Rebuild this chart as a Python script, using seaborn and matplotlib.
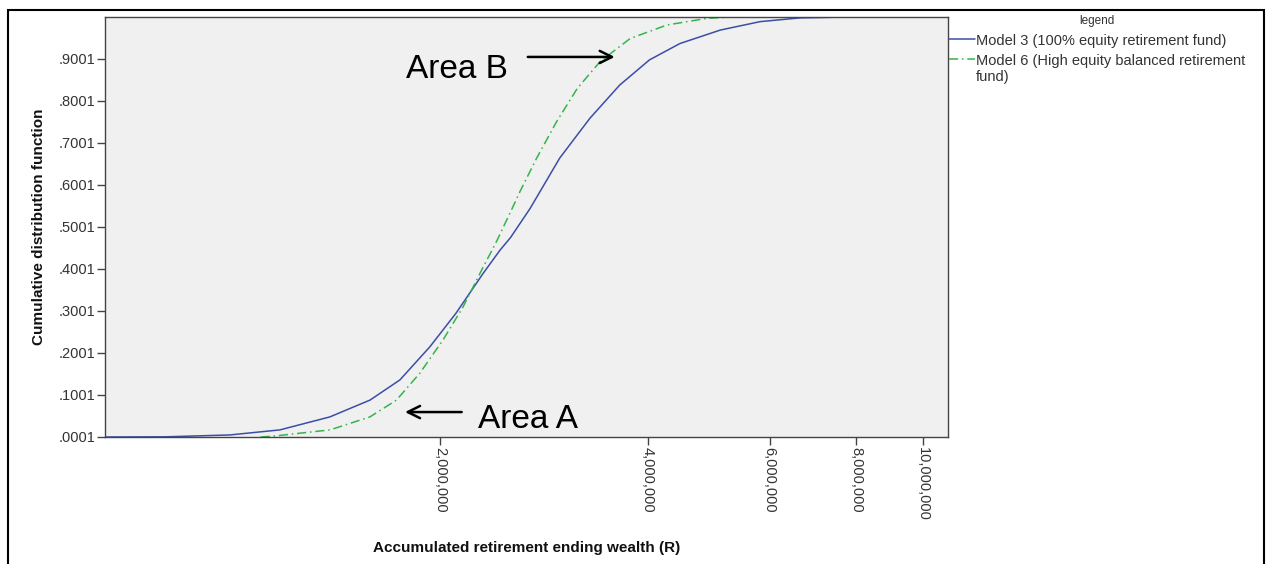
import numpy as np
import pandas as pd
import matplotlib
matplotlib.use("Agg")
import matplotlib.pyplot as plt
from matplotlib.patches import Rectangle
from matplotlib.ticker import FixedLocator, FuncFormatter, NullLocator
import seaborn as sns

# Empirical CDF of accumulated retirement ending wealth (R), per model
model3_wealth = [655000, 800000, 993000, 1173000, 1386000, 1584000, 1750000,
                 1934000, 2110000, 2310000, 2443000, 2530000, 2700000, 2980000,
                 3296000, 3640000, 4020000, 4450000, 5090000, 5810000, 6640000,
                 7800000, 10870000]
model3_cdf = [0.0001, 0.0005, 0.005, 0.017, 0.048, 0.088, 0.136,
              0.215, 0.295, 0.390, 0.445, 0.475, 0.544, 0.664,
              0.759, 0.838, 0.898, 0.937, 0.969, 0.989, 0.998,
              1.0001, 1.0001]

model6_wealth = [1100000, 1146000, 1386000, 1584000, 1730000, 1870000, 2020000,
                 2160000, 2310000, 2386000, 2420000, 2550000, 2610000, 2760000,
                 2950000, 3160000, 3410000, 3770000, 4260000, 4870000, 5300000,
                 10870000]
model6_cdf = [0.0001, 0.002, 0.017, 0.048, 0.088, 0.152, 0.231,
              0.310, 0.405, 0.449, 0.469, 0.548, 0.584, 0.664,
              0.751, 0.830, 0.894, 0.949, 0.981, 0.997, 1.0001,
              1.0001]

model_names = ["Model 3 (100% equity retirement fund)",
               "Model 6 (High equity balanced retirement fund)"]
legend_labels = ["Model 3 (100% equity retirement fund)",
                 "Model 6 (High equity balanced retirement\nfund)"]

x_ticks = [2000000, 4000000, 6000000, 8000000, 10000000]
y_ticks = [0.0001 + 0.1 * k for k in range(10)]

df = pd.concat([
    pd.DataFrame({"wealth": model3_wealth, "cdf": model3_cdf, "model": model_names[0]}),
    pd.DataFrame({"wealth": model6_wealth, "cdf": model6_cdf, "model": model_names[1]}),
], ignore_index=True)

sns.set_style("ticks")
plt.rcParams["font.family"] = ["Liberation Sans", "DejaVu Sans"]

fig = plt.figure(figsize=(12.66, 5.64), dpi=100)
W, H = 1266, 564
ax = fig.add_axes([105 / W, 1 - 437 / H, (948 - 105) / W, (437 - 17) / H])
ax.set_facecolor("#f0f0f0")

palette = {model_names[0]: "#3B4EA6", model_names[1]: "#34B44A"}
dashes = {model_names[0]: "", model_names[1]: (6, 2.5, 1, 2.5)}
sns.lineplot(data=df, x="wealth", y="cdf", hue="model", style="model",
             palette=palette, dashes=dashes, linewidth=1.1, sort=False,
             estimator=None, ax=ax)

ax.set_xscale("log")
ax.set_xlim(655000, 10870000)
ax.set_ylim(0.0001, 1.0001)

ax.xaxis.set_major_locator(FixedLocator(x_ticks))
ax.xaxis.set_minor_locator(NullLocator())
ax.xaxis.set_major_formatter(FuncFormatter(lambda v, p: f"{int(round(v)):,}"))
ax.yaxis.set_major_locator(FixedLocator(y_ticks))
ax.yaxis.set_major_formatter(
    FuncFormatter(lambda v, p: "." + f"{int(round(v * 10000)):04d}"))

ax.tick_params(axis="both", direction="out", length=6, width=1,
               color="#444444", labelcolor="#333333", labelsize=10.5)
ax.tick_params(axis="x", labelrotation=270, pad=1)
ax.tick_params(axis="y", pad=1)
for lbl in ax.get_xticklabels():
    lbl.set_va("top")
    lbl.set_ha("center")
for s in ax.spines.values():
    s.set_color("#444444")
    s.set_linewidth(1)

ax.set_xlabel("Accumulated retirement ending wealth (R)", fontsize=11,
              fontweight="bold", color="#111111")
ax.xaxis.set_label_coords(0.5, (437 - 541) / 420)
ax.set_ylabel("Cumulative distribution function", fontsize=11,
              fontweight="bold", color="#111111")
ax.yaxis.set_label_coords((46 - 105) / 843, 0.5)

# Annotated regions
ax.text(2510000, 0.855, "Area B", fontsize=24, ha="right", va="baseline",
        color="black")
ax.annotate("", xy=(3580000, 0.905), xytext=(2680000, 0.905),
            arrowprops=dict(arrowstyle="->", lw=1.8, color="black",
                            mutation_scale=22, shrinkA=0, shrinkB=0))
ax.text(2270000, 0.0214, "Area A", fontsize=24, ha="left", va="baseline",
        color="black")
ax.annotate("", xy=(1780000, 0.0595), xytext=(2150000, 0.0595),
            arrowprops=dict(arrowstyle="->", lw=1.8, color="black",
                            mutation_scale=22, shrinkA=0, shrinkB=0))

# Legend to the right of the plot
leg = ax.legend(title="legend", loc="upper left",
                bbox_to_anchor=(949 / W, 1 - 15 / H),
                bbox_transform=fig.transFigure, frameon=False,
                fontsize=10.5, title_fontsize=8.5, borderpad=0,
                borderaxespad=0, handlelength=1.75, handletextpad=0.1,
                labelspacing=0.45)
for txt, lab in zip(leg.get_texts(), legend_labels):
    txt.set_text(lab)
    txt.set_color("#333333")
    txt.set_linespacing(1.15)
leg.get_title().set_color("#333333")
# keep each legend line sample level with the first line of its label
for column in leg._legend_handle_box.get_children():
    for entry in column.get_children():
        entry.align = "top"

# Outer frame
fig.add_artist(Rectangle((8 / W, -0.05), (1264 - 8) / W, 1.05 - 10 / H,
                         transform=fig.transFigure, fill=False,
                         edgecolor="black", linewidth=1.5, clip_on=False))

fig.savefig("out.png", dpi=100, facecolor="white")
